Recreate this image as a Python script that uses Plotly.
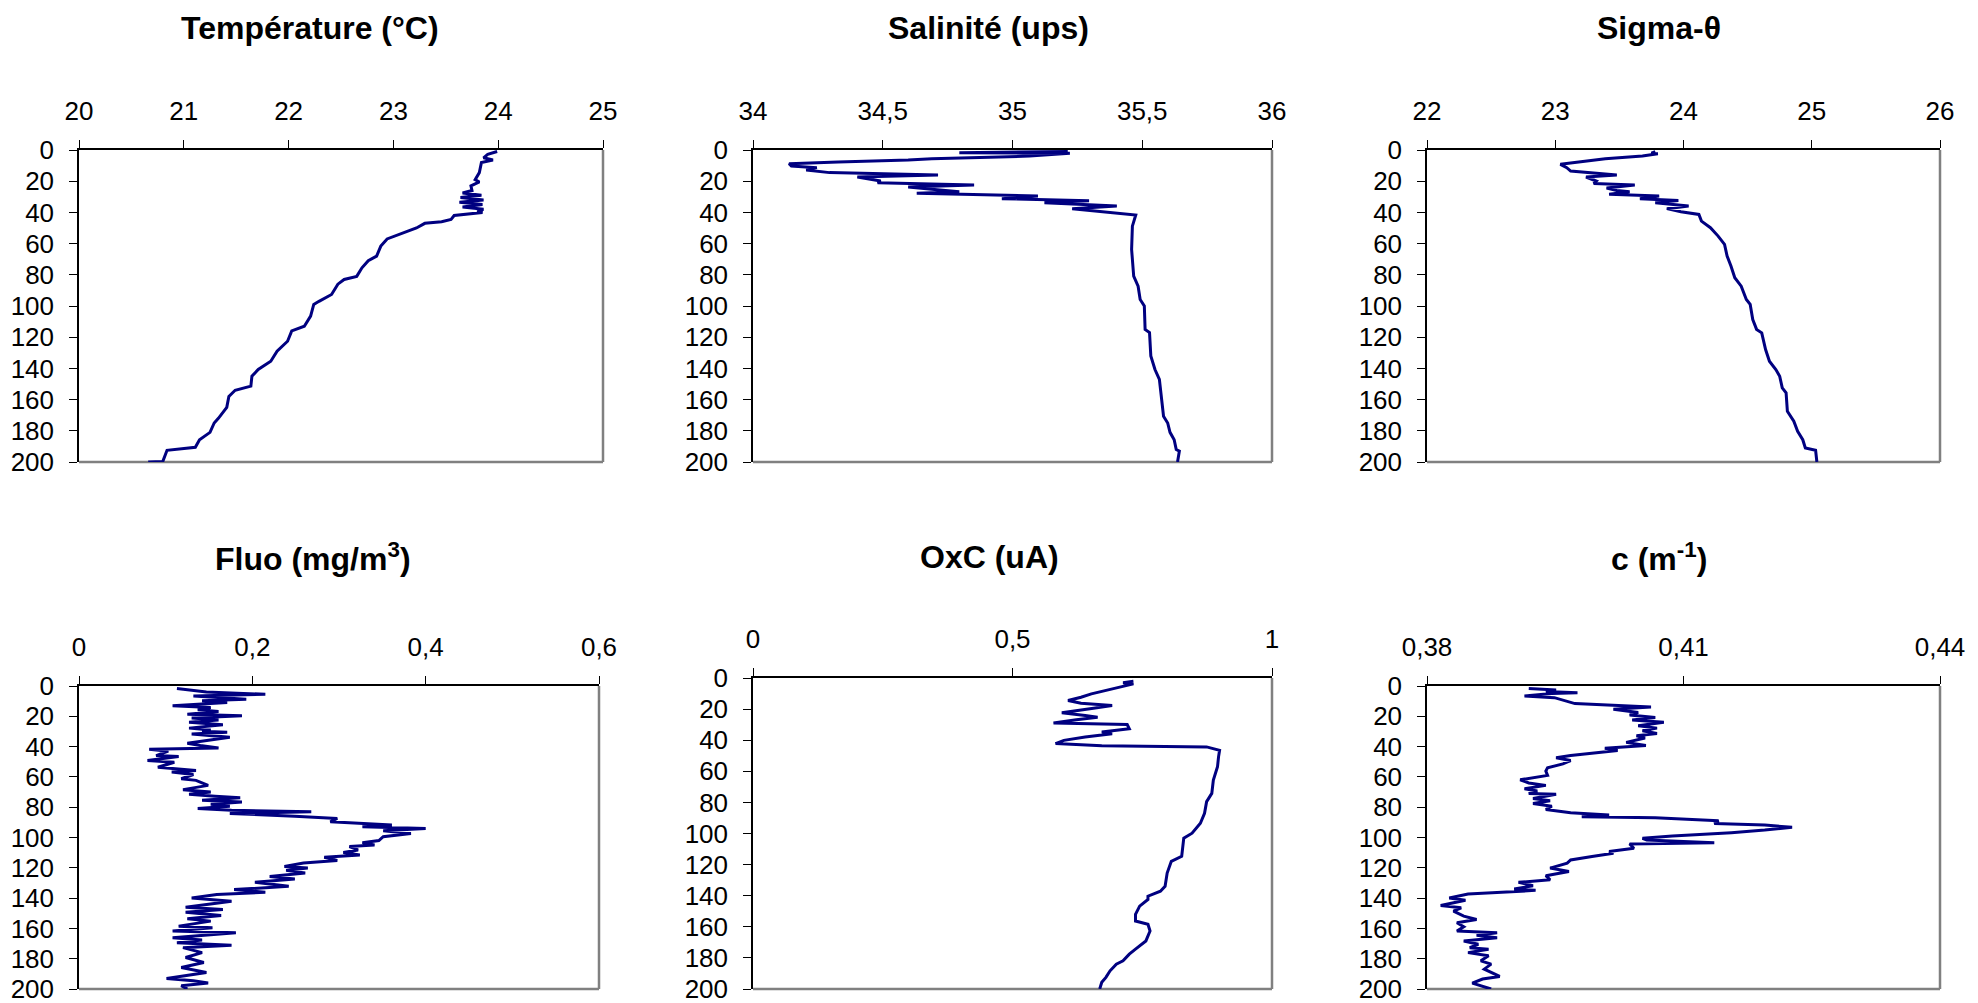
import plotly.graph_objects as go

# ---- data ----
temp_depth = [1, 2.8, 5, 6.4, 8, 14.5, 19, 20.5, 23, 26, 27.5, 29, 30.5, 32, 33.5, 35, 36.5, 38, 39, 40,
              42, 44.5, 46, 47, 50, 54, 57, 61.6, 68, 71, 75.5, 81, 83, 86, 92.6, 97, 99, 106.5, 113, 116,
              122.6, 129, 135.4, 140.7, 145, 151.4, 154, 158, 165, 172, 175, 181, 185.7, 190.6, 192.5, 199.6, 200]
temp_val = [23.99, 23.9, 23.86, 23.95, 23.84, 23.82, 23.78, 23.82, 23.74, 23.75, 23.66, 23.84, 23.64, 23.86,
            23.63, 23.85, 23.66, 23.86, 23.8, 23.85,
            23.58, 23.55, 23.46, 23.3, 23.22, 23.06, 22.94, 22.88, 22.84, 22.76, 22.7, 22.65, 22.53, 22.47, 22.41,
            22.29, 22.24, 22.21, 22.15, 22.03, 21.99, 21.89, 21.83, 21.71, 21.65, 21.64, 21.49, 21.43, 21.41,
            21.33, 21.29, 21.25, 21.15, 21.11, 20.84, 20.8, 20.66]

sal_depth = [1, 1.7, 2.1, 3.9, 5.6, 6.4, 7.7, 8.8, 10.3, 11.3, 12.8, 14.5, 16, 17.3, 19.9, 21, 22.5, 23.7, 25.2,
             26.7, 27.8, 29.5, 31.2, 32.5, 33.8, 35.9, 37.6, 39.6, 41.7, 48.8, 63.7, 80.9, 87.3, 95.8, 100, 115,
             117, 132, 140.7, 147, 160, 170.7, 175, 181, 185.7, 192, 193, 200]
sal_val = [35.213, 34.795, 35.221, 35.066, 34.689, 34.598, 34.328, 34.139, 34.148, 34.246, 34.205, 34.295, 34.713,
           34.402, 34.492, 34.48, 34.852, 34.598, 34.689, 34.795, 34.631, 35.098, 34.959, 35.295, 35.123, 35.402,
           35.23, 35.36, 35.475, 35.462, 35.459, 35.467, 35.484, 35.492, 35.508, 35.511, 35.528, 35.533, 35.549,
           35.566, 35.574, 35.582, 35.598, 35.607, 35.623, 35.631, 35.643, 35.636]

sig_depth = [1, 2, 2.4, 3.9, 5.6, 7.5, 9.2, 11.3, 13.5, 16, 17.3, 19.9, 21.4, 22.5, 24.4, 25.9, 26.7, 28.4, 29.5,
             31.2, 32.3, 33.8, 35.9, 37.6, 39.6, 41.3, 45.6, 49.8, 55.2, 60.5, 68, 74.4, 81.9, 87.3, 95.8, 99,
             108.7, 115, 117.2, 127.9, 135.4, 140.7, 145, 152.5, 155.7, 167.5, 173.9, 180.3, 185.7, 191, 192.5, 200]
sig_val = [23.78, 23.75, 23.80, 23.68, 23.39, 23.21, 23.04, 23.09, 23.12, 23.48, 23.24, 23.32, 23.30, 23.62, 23.40,
           23.48, 23.58, 23.42, 23.81, 23.66, 23.96, 23.78, 24.04, 23.87, 23.98, 24.12, 24.14, 24.21, 24.27,
           24.32, 24.34, 24.37, 24.40, 24.45, 24.49, 24.52, 24.54, 24.57, 24.61, 24.64, 24.67, 24.72, 24.75,
           24.77, 24.80, 24.81, 24.86, 24.89, 24.93, 24.95, 25.03, 25.04]

fluo_depth = [1.7, 3.3, 3.9, 5.5, 6.6, 8.7, 9.8, 10.9, 13.1, 14.2, 15.7, 16.8, 18.6, 19.7, 21.2, 22.5, 24, 25.6,
              27.8, 29.1, 29.9, 30.6, 31.7, 33.9, 35.6, 36.5, 37.8, 39.3, 40.9, 41.7, 43, 45.9, 46.6, 49.2, 50.3,
              53.6, 54.6, 55.7, 56.8, 58.4, 61.2, 62.3, 65.6, 68.4, 69.9, 71.5, 72.8, 73.7, 75.4, 76.5, 78, 79.3,
              80.9, 82, 83, 84.2, 85.9, 87.4, 89.6, 90.7, 91.8, 92.9, 94, 95.5, 97.3, 99.5, 102, 103.4, 104.9, 106,
              108.2, 109.9, 111.5, 113, 115.2, 116.9, 119.1, 120.2, 121.7, 123.5, 125.7, 127.4, 129.6, 132.2,
              134.4, 136.2, 137.7, 139.9, 142.1, 146, 147.5, 149.3, 151.5, 153.7, 155.2, 158.5, 159.6, 161.7,
              162.8, 166.1, 167.7, 169.4, 171.1, 172.7, 176, 179.2, 182.5, 185.8, 189.1, 193, 194.5, 196.1,
              197.8, 200]
fluo_val = [0.113, 0.135, 0.147, 0.215, 0.132, 0.193, 0.142, 0.171, 0.108, 0.152, 0.137, 0.161, 0.125, 0.188,
            0.130, 0.161, 0.127, 0.166, 0.127, 0.152, 0.142, 0.171, 0.130, 0.174, 0.152, 0.142, 0.125, 0.140,
            0.161, 0.081, 0.103, 0.089, 0.115, 0.079, 0.110, 0.091, 0.108, 0.135, 0.107, 0.132, 0.118, 0.135,
            0.149, 0.120, 0.152, 0.127, 0.157, 0.186, 0.142, 0.188, 0.152, 0.174, 0.137, 0.176, 0.268, 0.174,
            0.249, 0.298, 0.290, 0.322, 0.361, 0.327, 0.400, 0.351, 0.383, 0.351, 0.346, 0.327, 0.341, 0.312,
            0.322, 0.305, 0.324, 0.283, 0.298, 0.259, 0.237, 0.264, 0.239, 0.261, 0.220, 0.249, 0.203, 0.242,
            0.179, 0.215, 0.159, 0.130, 0.176, 0.123, 0.166, 0.123, 0.164, 0.125, 0.152, 0.115, 0.154, 0.108,
            0.181, 0.108, 0.142, 0.113, 0.176, 0.120, 0.142, 0.123, 0.144, 0.118, 0.147, 0.101, 0.132, 0.149,
            0.118, 0.125]

oxc_depth = [2.1, 3, 3.8, 6, 8.5, 10.2, 12.4, 14.5, 16.2, 17.7, 19.4, 22.4, 24.1, 25.2, 26.9, 29, 29.9, 32.6,
             34.8, 35.8, 38, 40.1, 42.2, 43.5, 44.3, 46.5, 50.7, 57.1, 65.7, 74.2, 79.5, 87, 93.4, 99.8, 103,
             114.7, 117.9, 125.4, 133.9, 137.1, 140.3, 142.4, 146.7, 152, 156.3, 158.4, 162.7, 169.1, 174.4,
             177.6, 181.9, 184, 188.3, 192.5, 195.7, 200]
oxc_val = [0.733, 0.713, 0.733, 0.704, 0.676, 0.652, 0.632, 0.607, 0.632, 0.692, 0.656, 0.595, 0.640, 0.664,
           0.623, 0.579, 0.721, 0.725, 0.672, 0.692, 0.640, 0.599, 0.583, 0.672, 0.874, 0.899, 0.897, 0.895,
           0.887, 0.884, 0.874, 0.870, 0.862, 0.846, 0.830, 0.826, 0.806, 0.798, 0.794, 0.785, 0.761, 0.761,
           0.745, 0.737, 0.737, 0.761, 0.765, 0.757, 0.737, 0.725, 0.713, 0.700, 0.688, 0.680, 0.672, 0.668]

c_depth = [1.7, 2.6, 3.7, 4.4, 5, 6.6, 7.7, 11.6, 13.8, 15.3, 17.5, 19.2, 20.8, 22.5, 24, 26.2, 27.8, 29.5, 31.3,
           32.8, 34.3, 37.2, 39.3, 41.1, 42.6, 44.4, 45.9, 47.4, 49.2, 51.4, 54, 56.2, 59, 61.9, 64, 65.6, 67.8,
           69.3, 71, 71.5, 74.3, 75.8, 77.6, 79.3, 81.5, 83.7, 85.2, 86.3, 87, 89, 90.7, 91.8, 93.3, 95.1, 96.8,
           99, 100.5, 101.6, 103.4, 104.3, 107.1, 109.3, 110.4, 112.6, 114.8, 116.9, 120.2, 122.4, 125.2, 127.9,
           129.6, 131.8, 134, 134.9, 137.3, 139.9, 141.4, 144.9, 146.4, 148.6, 151.9, 154.1, 156.3, 158.9, 161.7,
           162.8, 164.6, 166.1, 168.3, 170.5, 172.7, 173.8, 176, 178.1, 181.4, 183.6, 186.9, 191.7, 193.4,
           196.1, 200]
c_val = [0.3919, 0.3951, 0.3939, 0.3976, 0.3946, 0.3914, 0.3949, 0.3973, 0.4062, 0.4018, 0.4047, 0.4037, 0.4067,
         0.4040, 0.4077, 0.4047, 0.4069, 0.4052, 0.4069, 0.4045, 0.4055, 0.4033, 0.4056, 0.4008, 0.4023, 0.3991,
         0.3968, 0.3951, 0.3968, 0.3959, 0.3941, 0.3939, 0.3941, 0.3909, 0.3919, 0.3939, 0.3914, 0.3929, 0.3919,
         0.3951, 0.3924, 0.3944, 0.3924, 0.3946, 0.3939, 0.3968, 0.4013, 0.3981, 0.4067, 0.4141, 0.4136, 0.4195,
         0.4227, 0.4195, 0.4156, 0.4087, 0.4052, 0.4057, 0.4136, 0.4037, 0.4042, 0.4013, 0.4018, 0.3993, 0.3968,
         0.3964, 0.3944, 0.3966, 0.3939, 0.3944, 0.3907, 0.3924, 0.3902, 0.3927, 0.3848, 0.3826, 0.3845, 0.3816,
         0.3840, 0.3831, 0.3843, 0.3858, 0.3835, 0.3843, 0.3835, 0.3882, 0.3858, 0.3882, 0.3843, 0.3860, 0.3850,
         0.3872, 0.3848, 0.3872, 0.3863, 0.3875, 0.3867, 0.3885, 0.3865, 0.3853, 0.3875]

titles = ["Température (°C)", "Salinité (ups)", "Sigma-θ",
          "Fluo (mg/m<sup>3</sup>)", "OxC (uA)", "c (m<sup>-1</sup>)"]

temp_ticks = [20, 21, 22, 23, 24, 25]
temp_labels = ["20", "21", "22", "23", "24", "25"]
sal_ticks = [34, 34.5, 35, 35.5, 36]
sal_labels = ["34", "34,5", "35", "35,5", "36"]
sig_ticks = [22, 23, 24, 25, 26]
sig_labels = ["22", "23", "24", "25", "26"]
fluo_ticks = [0, 0.2, 0.4, 0.6]
fluo_labels = ["0", "0,2", "0,4", "0,6"]
oxc_ticks = [0, 0.5, 1]
oxc_labels = ["0", "0,5", "1"]
c_ticks = [0.38, 0.41, 0.44]
c_labels = ["0,38", "0,41", "0,44"]
depth_ticks = [0, 20, 40, 60, 80, 100, 120, 140, 160, 180, 200]

W, H = 1978, 1003
LINE = "#000080"
FONT = "Liberation Sans, Arial, sans-serif"


def fx(px):
    return px / W


def fy(py):
    return 1 - py / H


# panel boxes in screen pixels: left, right, top, bottom ; title centre x, y
panels = [
    (temp_val, temp_depth, temp_ticks, temp_labels, (79, 603, 150, 462), (310, 28)),
    (sal_val, sal_depth, sal_ticks, sal_labels, (753, 1272, 150, 462), (988, 28)),
    (sig_val, sig_depth, sig_ticks, sig_labels, (1427, 1940, 150, 462), (1659, 28)),
    (fluo_val, fluo_depth, fluo_ticks, fluo_labels, (79, 599, 686, 989), (313, 557)),
    (oxc_val, oxc_depth, oxc_ticks, oxc_labels, (753, 1272, 678, 989), (989, 557)),
    (c_val, c_depth, c_ticks, c_labels, (1427, 1940, 686, 989), (1659, 557)),
]

fig = go.Figure()
layout = {}
shapes = []
annotations = []

for i, (vals, depth, ticks, labels, box, tpos) in enumerate(panels):
    n = "" if i == 0 else str(i + 1)
    l, r, t, b = box
    fig.add_trace(go.Scatter(
        x=vals, y=depth, mode="lines",
        line=dict(color=LINE, width=3),
        xaxis="x" + n, yaxis="y" + n, showlegend=False,
    ))
    layout["xaxis" + n] = dict(
        domain=[fx(l), fx(r)], anchor="y" + n, side="top",
        range=[ticks[0], ticks[-1]], tickvals=ticks, ticktext=labels,
        showgrid=False, zeroline=False, automargin=False,
        showline=True, linecolor="black", linewidth=1.5,
        ticks="outside", ticklen=8, tickcolor="black", tickwidth=1,
        tickfont=dict(family=FONT, size=26, color="black"),
        ticklabelstandoff=10, ticklabeloverflow="allow",
    )
    layout["yaxis" + n] = dict(
        domain=[fy(b), fy(t)], anchor="x" + n,
        range=[200, 0], tickvals=depth_ticks,
        showgrid=False, zeroline=False, automargin=False,
        showline=True, linecolor="black", linewidth=1.5,
        ticks="outside", ticklen=8, tickcolor="black", tickwidth=1,
        tickfont=dict(family=FONT, size=26, color="black"),
        ticklabelstandoff=10, ticklabeloverflow="allow",
    )
    xd = "x" + n + " domain"
    yd = "y" + n + " domain"
    # grey frame on right and bottom (plot area border)
    shapes.append(dict(type="line", xref=xd, yref=yd, x0=0, x1=1, y0=0, y1=0,
                       line=dict(color="#808080", width=2.5), layer="below"))
    shapes.append(dict(type="line", xref=xd, yref=yd, x0=1, x1=1, y0=0, y1=1,
                       line=dict(color="#808080", width=2.5), layer="below"))
    annotations.append(dict(
        text="<b>" + titles[i] + "</b>", x=fx(tpos[0]), y=fy(tpos[1]),
        xref="paper", yref="paper", xanchor="center", yanchor="middle",
        showarrow=False, font=dict(family=FONT, size=32, color="black"),
    ))

fig.update_layout(
    **layout,
    shapes=shapes,
    annotations=annotations,
    width=W, height=H,
    margin=dict(l=0, r=0, t=0, b=0),
    paper_bgcolor="white",
    plot_bgcolor="white",
    showlegend=False,
)

# drop the default 8px page margin so the figure fills the window exactly
fig.write_html("out.html",
               config={"displayModeBar": False},
               post_script="document.body.style.margin='0';document.body.style.overflow='hidden';")
